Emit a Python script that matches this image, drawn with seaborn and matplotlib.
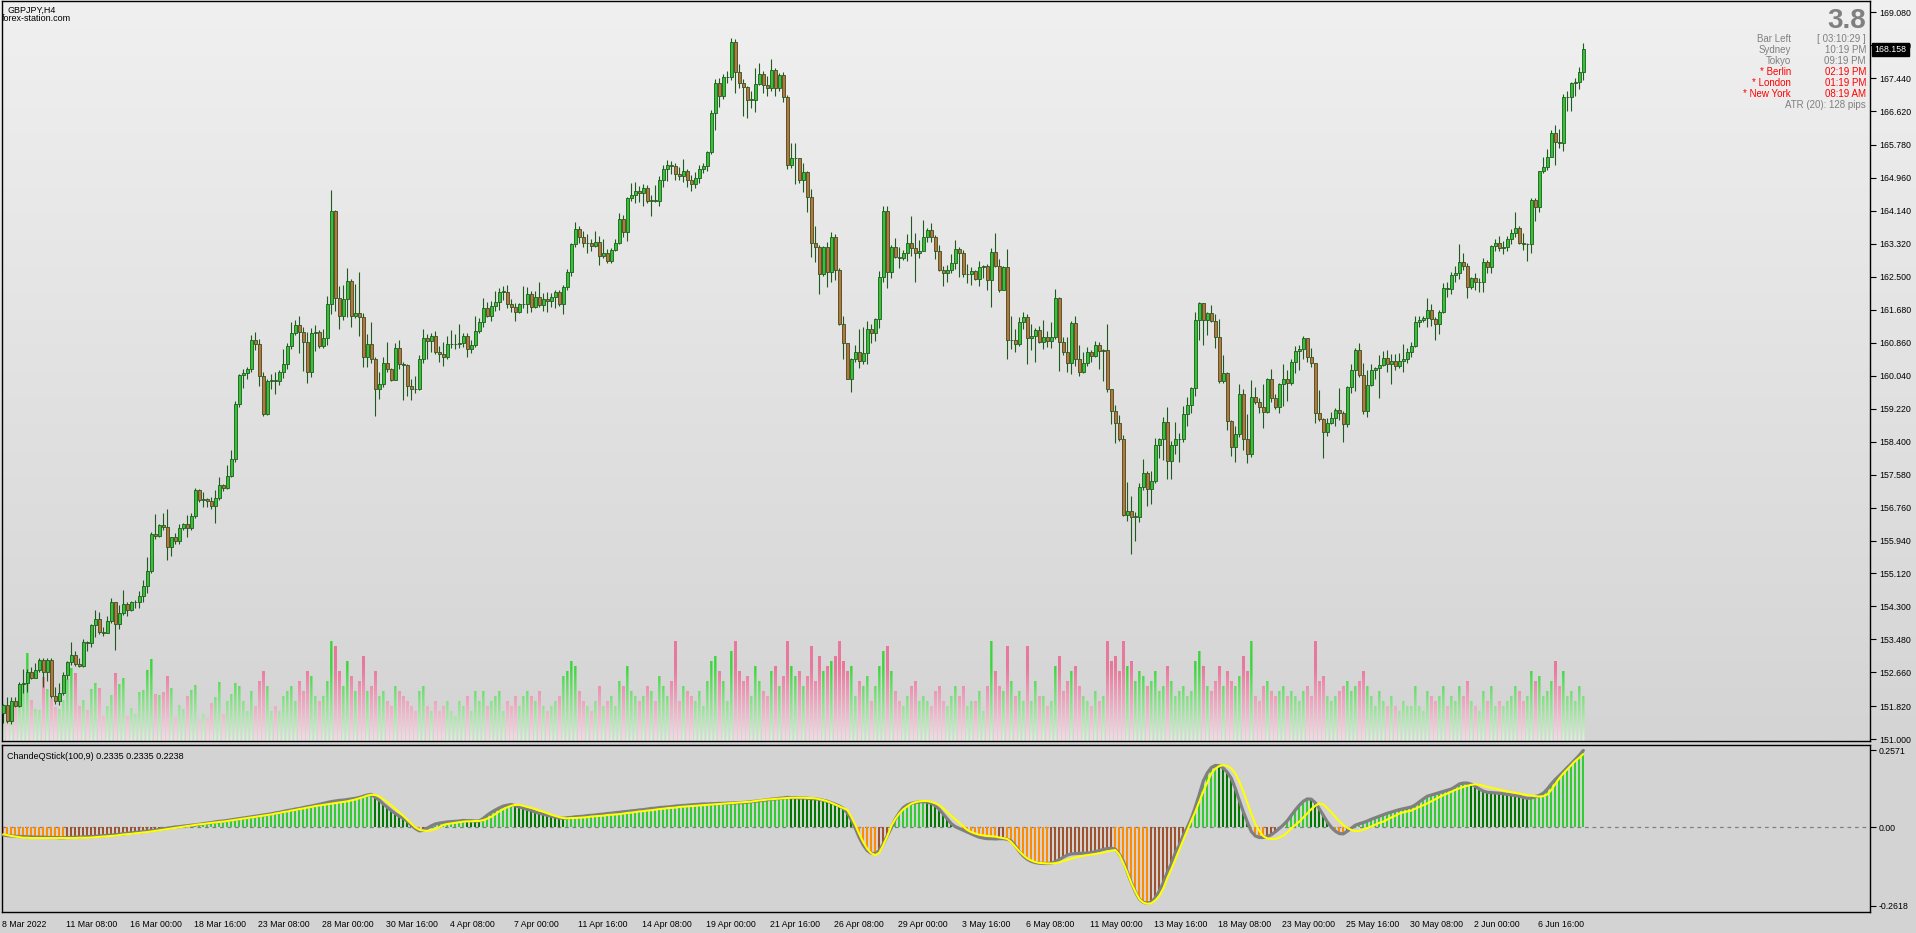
import numpy as np
import seaborn as sns
import matplotlib
matplotlib.use("Agg")
import matplotlib.pyplot as plt
from matplotlib.colors import LinearSegmentedColormap
from matplotlib.transforms import blended_transform_factory
from matplotlib.path import Path
from matplotlib.patches import PathPatch

# ---------------- chart data ----------------
symbol_title = "GBPJPY,H4"
site_title = "forex-station.com"
indicator_title = "ChandeQStick(100,9) 0.2335 0.2335 0.2238"

first_open = 151.65
closes = [
    151.84, 151.46, 151.96, 151.83, 152.37, 152.40, 152.66, 152.52, 152.71, 152.98,
    152.67, 152.98, 152.08, 151.94, 152.14, 152.59, 152.91, 153.10, 152.88, 152.82,
    153.41, 153.39, 153.84, 154.00, 153.66, 153.64, 153.93, 154.40, 153.87, 154.13,
    154.36, 154.22, 154.41, 154.42, 154.55, 154.80, 155.17, 156.10, 156.06, 156.32,
    156.28, 155.77, 156.03, 155.94, 156.25, 156.35, 156.26, 156.54, 157.19, 156.96,
    156.98, 156.92, 156.81, 157.00, 157.31, 157.25, 157.54, 157.97, 159.33, 160.06,
    160.10, 160.20, 160.93, 160.82, 160.04, 159.08, 159.91, 159.93, 159.92, 160.14,
    160.32, 160.78, 161.09, 161.30, 161.12, 160.87, 160.12, 161.09, 161.12, 160.79,
    160.99, 161.82, 164.14, 161.98, 161.53, 161.94, 162.40, 161.53, 161.59, 161.51,
    160.51, 160.83, 160.45, 159.70, 159.83, 160.35, 160.21, 159.93, 160.72, 160.32,
    160.31, 159.79, 159.72, 159.70, 160.45, 160.99, 160.91, 161.03, 160.62, 160.57,
    160.50, 160.82, 160.82, 160.83, 160.85, 161.03, 160.70, 160.80, 161.15, 161.37,
    161.72, 161.53, 161.78, 161.88, 162.13, 162.13, 161.82, 161.76, 161.63, 161.82,
    161.82, 162.06, 161.76, 161.99, 161.80, 161.94, 161.91, 162.01, 162.11, 161.82,
    162.24, 162.61, 163.31, 163.68, 163.48, 163.33, 163.35, 163.27, 163.36, 163.03,
    163.08, 162.90, 163.17, 163.33, 163.93, 163.61, 164.45, 164.54, 164.63, 164.58,
    164.70, 164.39, 164.41, 164.39, 164.92, 165.17, 165.28, 165.26, 165.05, 165.02,
    165.12, 164.91, 164.80, 164.95, 165.17, 165.26, 165.60, 166.57, 167.31, 167.01,
    167.46, 167.46, 168.33, 167.59, 167.31, 167.23, 166.91, 166.91, 167.29, 167.54,
    167.27, 167.19, 167.64, 167.19, 167.52, 166.98, 165.28, 165.45, 165.45, 164.91,
    165.10, 164.49, 163.33, 163.25, 162.56, 163.23, 162.63, 163.48, 162.67, 161.32,
    160.85, 159.97, 160.45, 160.62, 160.41, 160.60, 161.20, 161.09, 161.45, 162.50,
    164.14, 162.61, 163.23, 163.00, 162.98, 163.08, 163.33, 163.21, 163.10, 163.13,
    163.48, 163.66, 163.50, 163.13, 162.67, 162.59, 162.67, 162.84, 163.18, 163.10,
    162.56, 162.57, 162.65, 162.45, 162.75, 162.77, 162.42, 163.11, 162.77, 162.17,
    162.74, 160.93, 160.93, 160.82, 161.37, 161.50, 160.97, 161.03, 161.18, 160.89,
    161.00, 160.91, 161.00, 161.97, 160.89, 160.64, 160.35, 161.34, 160.45, 160.12,
    160.35, 160.64, 160.54, 160.80, 160.66, 160.67, 159.70, 159.17, 158.86, 158.46,
    156.58, 156.67, 156.53, 156.53, 157.26, 157.61, 157.21, 157.42, 158.32, 158.46,
    158.88, 157.93, 158.32, 158.46, 158.46, 159.08, 159.31, 159.73, 161.43, 161.84,
    161.43, 161.59, 161.41, 161.01, 159.92, 160.10, 158.92, 158.26, 158.58, 159.58,
    158.46, 158.09, 159.50, 159.39, 159.25, 159.13, 159.96, 159.48, 159.27, 159.83,
    159.97, 159.87, 160.37, 160.66, 160.70, 160.97, 160.51, 160.35, 159.12, 158.96,
    158.65, 158.86, 158.99, 159.19, 159.12, 158.83, 159.75, 160.18, 160.68, 160.06,
    159.17, 159.81, 160.18, 160.22, 160.31, 160.47, 160.32, 160.40, 160.29, 160.41,
    160.46, 160.64, 160.78, 161.37, 161.43, 161.47, 161.67, 161.44, 161.33, 161.62,
    162.21, 162.19, 162.55, 162.59, 162.86, 162.78, 162.25, 162.46, 162.36, 162.38,
    162.86, 162.75, 163.27, 163.33, 163.21, 163.23, 163.43, 163.58, 163.71, 163.35,
    163.31, 163.32, 164.41, 164.23, 165.13, 165.22, 165.49, 166.07, 165.85, 165.84,
    166.97, 166.97, 167.31, 167.35, 167.59, 168.16,
]
highs = [
    151.87, 152.05, 152.05, 152.05, 152.41, 152.74, 152.74, 152.79, 152.89, 153.02,
    153.02, 153.02, 153.02, 152.30, 152.40, 152.67, 152.95, 153.41, 153.20, 153.03,
    153.49, 153.45, 153.86, 154.21, 154.16, 153.78, 154.07, 154.51, 154.40, 154.34,
    154.71, 154.40, 154.44, 154.46, 154.68, 154.95, 155.53, 156.15, 156.60, 156.35,
    156.63, 156.72, 156.04, 156.13, 156.35, 156.38, 156.58, 156.63, 157.25, 157.21,
    157.15, 157.00, 157.02, 157.20, 157.52, 157.35, 157.82, 158.19, 159.42, 160.08,
    160.20, 160.26, 161.05, 161.12, 160.95, 160.14, 159.97, 160.08, 160.14, 160.18,
    160.70, 160.86, 161.37, 161.42, 161.52, 161.26, 161.12, 161.22, 161.30, 161.18,
    161.20, 162.02, 164.66, 164.16, 162.27, 162.30, 162.71, 162.45, 162.32, 162.62,
    161.59, 161.08, 161.37, 160.50, 160.14, 160.50, 160.87, 160.24, 160.85, 160.92,
    160.37, 160.32, 159.95, 160.03, 160.56, 161.20, 161.08, 161.11, 161.15, 160.78,
    160.87, 161.03, 161.18, 161.08, 161.32, 161.09, 161.11, 160.93, 161.53, 161.47,
    161.97, 161.87, 161.90, 162.15, 162.21, 162.27, 162.30, 161.96, 161.86, 161.86,
    162.27, 162.24, 162.15, 162.15, 162.36, 162.09, 162.13, 162.09, 162.17, 162.17,
    162.30, 162.69, 163.33, 163.86, 163.76, 163.64, 163.57, 163.43, 163.64, 163.52,
    163.44, 163.19, 163.21, 163.44, 164.08, 164.05, 164.49, 164.84, 164.86, 164.76,
    164.80, 164.78, 164.54, 164.78, 165.02, 165.28, 165.41, 165.39, 165.32, 165.22,
    165.43, 165.17, 165.03, 165.10, 165.27, 165.32, 165.63, 166.65, 167.41, 167.44,
    167.55, 167.62, 168.43, 168.42, 167.79, 167.42, 167.25, 167.12, 167.70, 167.83,
    167.62, 167.50, 167.92, 167.69, 167.56, 167.60, 167.02, 165.82, 165.82, 165.46,
    165.32, 165.13, 164.68, 163.76, 163.29, 163.27, 163.36, 163.62, 163.56, 162.71,
    161.52, 160.85, 160.49, 160.80, 161.20, 161.24, 161.40, 161.32, 161.48, 162.64,
    164.26, 164.26, 163.29, 163.47, 163.25, 163.17, 163.56, 164.01, 163.58, 163.42,
    163.91, 163.71, 163.85, 163.54, 163.29, 162.77, 162.79, 163.06, 163.42, 163.23,
    163.17, 162.82, 162.74, 162.67, 162.89, 162.79, 162.82, 163.21, 163.58, 162.94,
    162.77, 163.18, 161.52, 161.19, 161.51, 161.62, 161.57, 161.32, 161.22, 161.28,
    161.43, 161.15, 161.37, 162.20, 162.01, 161.00, 161.00, 161.39, 161.53, 160.80,
    160.62, 160.75, 160.68, 160.90, 160.87, 160.70, 161.32, 159.70, 159.31, 159.06,
    158.57, 157.39, 157.05, 156.66, 157.38, 157.96, 157.67, 157.67, 158.48, 158.48,
    159.02, 159.27, 158.42, 158.88, 158.61, 159.29, 159.52, 159.77, 161.62, 161.87,
    161.86, 161.63, 161.80, 161.58, 161.45, 160.56, 160.12, 158.94, 158.80, 159.83,
    159.70, 159.09, 159.93, 159.75, 159.49, 159.83, 159.99, 160.21, 159.59, 159.87,
    160.33, 160.18, 160.45, 160.78, 160.80, 161.03, 160.97, 160.72, 160.35, 159.68,
    159.00, 158.98, 159.13, 159.23, 159.74, 159.16, 159.78, 160.33, 160.74, 160.86,
    160.35, 160.17, 160.33, 160.25, 160.56, 160.66, 160.68, 160.58, 160.58, 160.61,
    160.83, 160.74, 160.89, 161.53, 161.53, 161.53, 161.98, 161.82, 161.51, 161.67,
    162.34, 162.36, 162.61, 162.77, 163.32, 163.10, 162.84, 162.50, 162.59, 162.46,
    162.96, 162.92, 163.29, 163.43, 163.52, 163.40, 163.52, 163.68, 164.12, 163.76,
    163.58, 163.34, 164.45, 164.45, 165.14, 165.49, 165.68, 166.15, 166.28, 166.18,
    167.05, 167.12, 167.35, 167.44, 167.71, 168.31,
]
lows = [
    151.40, 151.40, 151.38, 151.79, 151.79, 152.15, 152.17, 152.49, 152.52, 152.67,
    152.30, 152.44, 152.02, 151.88, 151.86, 152.10, 152.50, 152.85, 152.81, 152.80,
    152.80, 153.20, 153.29, 153.54, 153.61, 153.56, 153.63, 153.89, 153.22, 153.74,
    154.08, 154.07, 154.19, 154.26, 154.26, 154.42, 154.63, 155.12, 155.99, 156.04,
    156.20, 155.46, 155.56, 155.85, 155.85, 156.19, 156.04, 156.20, 156.50, 156.90,
    156.78, 156.78, 156.73, 156.38, 156.96, 157.17, 157.22, 157.51, 157.90, 159.27,
    159.74, 159.95, 160.14, 160.68, 159.78, 159.04, 159.06, 159.70, 159.58, 159.81,
    159.99, 160.21, 160.70, 161.05, 160.61, 160.16, 159.87, 160.02, 160.66, 160.74,
    160.74, 160.80, 161.58, 161.66, 161.20, 161.43, 161.51, 161.24, 161.48, 161.04,
    160.26, 160.26, 160.36, 159.05, 159.47, 159.77, 160.12, 159.92, 159.93, 160.20,
    159.44, 159.54, 159.44, 159.62, 159.68, 160.36, 160.46, 160.64, 160.58, 160.39,
    160.29, 160.46, 160.72, 160.70, 160.72, 160.76, 160.51, 160.61, 160.75, 161.09,
    161.26, 161.51, 161.41, 161.66, 161.67, 161.92, 161.72, 161.63, 161.41, 161.59,
    161.72, 161.61, 161.63, 161.72, 161.74, 161.66, 161.63, 161.74, 161.73, 161.77,
    161.58, 162.17, 162.53, 163.25, 163.33, 163.25, 163.10, 163.15, 163.25, 162.79,
    162.98, 162.85, 162.85, 163.13, 163.31, 163.48, 163.40, 164.39, 164.34, 164.37,
    164.27, 164.34, 164.02, 164.35, 164.26, 164.74, 164.89, 165.05, 164.91, 164.91,
    164.87, 164.74, 164.64, 164.72, 164.83, 165.07, 165.12, 165.55, 166.15, 166.73,
    166.92, 167.31, 167.40, 167.06, 167.19, 166.51, 166.44, 166.69, 166.61, 167.26,
    167.08, 167.00, 167.13, 167.01, 167.13, 166.86, 165.17, 165.20, 164.80, 164.83,
    164.60, 164.10, 163.00, 162.86, 162.06, 162.53, 162.25, 162.36, 162.42, 161.30,
    160.45, 159.97, 159.63, 160.39, 160.22, 160.32, 160.32, 160.85, 160.90, 161.22,
    162.36, 162.21, 162.46, 162.98, 162.73, 162.92, 162.89, 163.03, 162.38, 162.96,
    163.14, 163.37, 163.37, 162.94, 162.65, 162.27, 162.38, 162.59, 162.69, 162.50,
    162.50, 162.35, 162.30, 162.42, 162.26, 162.46, 162.17, 161.76, 162.75, 162.11,
    162.16, 160.46, 160.70, 160.64, 160.79, 161.19, 160.32, 160.68, 160.39, 160.85,
    160.71, 160.76, 160.74, 160.95, 160.16, 160.56, 160.14, 160.07, 160.29, 160.04,
    160.10, 160.29, 160.39, 160.51, 160.21, 159.92, 159.64, 158.84, 158.37, 158.42,
    156.56, 156.43, 155.60, 155.94, 156.41, 157.20, 156.81, 156.84, 157.36, 158.00,
    157.94, 157.46, 157.46, 158.09, 157.90, 158.40, 158.80, 159.10, 159.54, 160.93,
    160.80, 161.05, 161.37, 160.74, 159.85, 159.85, 158.69, 158.05, 157.90, 158.52,
    158.18, 157.88, 158.03, 159.34, 159.10, 158.73, 159.10, 159.38, 159.20, 159.10,
    159.29, 159.42, 159.81, 160.10, 160.18, 160.46, 160.37, 160.25, 158.86, 158.92,
    158.00, 158.55, 158.84, 158.80, 158.94, 158.40, 158.77, 159.62, 159.67, 160.00,
    159.09, 159.02, 159.78, 159.96, 159.49, 160.28, 160.14, 159.83, 160.17, 160.22,
    160.12, 160.35, 160.51, 160.75, 161.26, 161.38, 161.24, 161.28, 160.94, 161.07,
    161.59, 162.01, 162.06, 162.38, 162.45, 162.67, 161.98, 162.20, 162.17, 162.13,
    162.11, 162.59, 162.60, 163.15, 163.15, 163.06, 163.15, 163.31, 163.50, 163.31,
    163.17, 162.90, 163.10, 163.90, 164.12, 165.07, 165.16, 165.47, 165.28, 165.71,
    165.64, 166.63, 166.63, 167.01, 167.17, 167.40,
]
tick_volume = [
    30, 33, 20, 33, 57, 58, 88, 41, 32, 31, 64, 52, 42, 34, 32, 41, 62, 73, 68, 35,
    41, 31, 52, 58, 53, 25, 35, 46, 68, 57, 63, 25, 33, 27, 49, 51, 71, 82, 47, 46,
    49, 65, 53, 23, 36, 32, 45, 51, 56, 20, 27, 23, 38, 44, 59, 27, 40, 47, 58, 55,
    40, 30, 50, 35, 60, 70, 55, 30, 35, 30, 45, 50, 55, 40, 60, 50, 70, 65, 45, 40,
    45, 60, 100, 95, 70, 55, 80, 65, 50, 60, 85, 50, 55, 70, 45, 50, 40, 35, 55, 50,
    45, 40, 35, 30, 50, 55, 35, 30, 40, 30, 35, 40, 30, 25, 40, 35, 45, 30, 50, 40,
    50, 35, 40, 45, 50, 30, 40, 35, 45, 35, 45, 50, 45, 40, 50, 35, 30, 35, 40, 45,
    65, 70, 80, 75, 50, 40, 35, 30, 40, 55, 35, 40, 45, 35, 60, 55, 75, 50, 45, 40,
    45, 55, 50, 40, 65, 55, 45, 60, 108, 40, 55, 50, 45, 40, 50, 35, 60, 80, 85, 70,
    60, 40, 90, 100, 70, 60, 65, 45, 75, 60, 50, 45, 70, 75, 55, 65, 100, 75, 65, 70,
    55, 65, 95, 60, 85, 70, 75, 80, 85, 100, 80, 70, 75, 45, 60, 55, 65, 40, 55, 75,
    90, 95, 70, 50, 40, 35, 45, 55, 60, 40, 45, 40, 35, 50, 55, 40, 35, 45, 55, 45,
    55, 35, 40, 40, 50, 30, 55, 105, 70, 55, 50, 95, 60, 45, 50, 40, 95, 40, 60, 45,
    45, 35, 40, 75, 85, 50, 60, 70, 75, 55, 45, 40, 35, 50, 40, 45, 105, 80, 85, 70,
    105, 75, 80, 60, 70, 65, 55, 60, 70, 50, 55, 75, 60, 45, 50, 55, 45, 50, 80, 90,
    75, 55, 50, 60, 75, 55, 70, 60, 55, 65, 85, 70, 110, 45, 40, 55, 60, 50, 45, 50,
    55, 45, 50, 45, 40, 50, 55, 45, 100, 60, 65, 45, 40, 45, 50, 55, 60, 50, 55, 60,
    70, 55, 45, 35, 50, 40, 35, 45, 35, 30, 40, 35, 35, 55, 35, 30, 50, 45, 40, 45,
    55, 35, 45, 40, 55, 45, 60, 40, 35, 30, 50, 40, 55, 35, 40, 35, 40, 45, 55, 50,
    40, 45, 70, 60, 65, 45, 50, 60, 80, 55, 70, 45, 50, 40, 55, 45,
]
qstick = [
    -0.026, -0.028, -0.029, -0.030, -0.031, -0.031, -0.032, -0.032, -0.033, -0.033,
    -0.033, -0.034, -0.034, -0.034, -0.035, -0.035, -0.034, -0.034, -0.033, -0.033,
    -0.032, -0.031, -0.031, -0.030, -0.029, -0.028, -0.027, -0.026, -0.025, -0.023,
    -0.022, -0.020, -0.019, -0.017, -0.016, -0.014, -0.013, -0.011, -0.009, -0.007,
    -0.005, -0.003, -0.001, 0.001, 0.002, 0.004, 0.005, 0.007, 0.008, 0.010,
    0.012, 0.014, 0.016, 0.018, 0.020, 0.021, 0.023, 0.025, 0.027, 0.029,
    0.031, 0.033, 0.035, 0.037, 0.039, 0.041, 0.043, 0.045, 0.048, 0.050,
    0.053, 0.056, 0.058, 0.061, 0.063, 0.066, 0.069, 0.071, 0.074, 0.077,
    0.080, 0.083, 0.086, 0.088, 0.090, 0.091, 0.093, 0.095, 0.097, 0.100,
    0.104, 0.108, 0.110, 0.100, 0.091, 0.078, 0.067, 0.056, 0.046, 0.037,
    0.030, 0.020, 0.007, -0.004, -0.012, -0.010, -0.003, 0.005, 0.011, 0.014,
    0.016, 0.018, 0.019, 0.020, 0.021, 0.023, 0.022, 0.022, 0.021, 0.021,
    0.030, 0.041, 0.050, 0.058, 0.065, 0.071, 0.074, 0.076, 0.072, 0.068,
    0.064, 0.060, 0.056, 0.051, 0.047, 0.044, 0.040, 0.037, 0.034, 0.031,
    0.030, 0.032, 0.033, 0.035, 0.036, 0.037, 0.039, 0.040, 0.041, 0.043,
    0.044, 0.046, 0.047, 0.049, 0.050, 0.052, 0.053, 0.055, 0.056, 0.058,
    0.059, 0.061, 0.063, 0.064, 0.066, 0.067, 0.068, 0.069, 0.071, 0.072,
    0.073, 0.074, 0.075, 0.076, 0.077, 0.078, 0.078, 0.079, 0.079, 0.080,
    0.080, 0.081, 0.081, 0.082, 0.082, 0.083, 0.084, 0.086, 0.087, 0.089,
    0.090, 0.092, 0.094, 0.095, 0.097, 0.098, 0.100, 0.099, 0.099, 0.098,
    0.098, 0.097, 0.096, 0.095, 0.093, 0.090, 0.087, 0.082, 0.077, 0.071,
    0.063, 0.048, 0.025, -0.003, -0.035, -0.060, -0.078, -0.087, -0.088, -0.078,
    -0.055, -0.028, -0.002, 0.028, 0.049, 0.066, 0.075, 0.080, 0.083, 0.085,
    0.086, 0.084, 0.080, 0.072, 0.060, 0.044, 0.028, 0.012, 0.002, -0.004,
    -0.010, -0.016, -0.022, -0.028, -0.033, -0.036, -0.038, -0.038, -0.039, -0.038,
    -0.038, -0.040, -0.046, -0.062, -0.081, -0.096, -0.107, -0.114, -0.118, -0.120,
    -0.121, -0.121, -0.120, -0.115, -0.108, -0.100, -0.093, -0.089, -0.088, -0.087,
    -0.087, -0.086, -0.085, -0.081, -0.078, -0.074, -0.071, -0.070, -0.073, -0.090,
    -0.113, -0.150, -0.185, -0.215, -0.240, -0.251, -0.254, -0.250, -0.236, -0.213,
    -0.185, -0.150, -0.122, -0.085, -0.060, -0.026, 0.000, 0.030, 0.068, 0.110,
    0.155, 0.182, 0.200, 0.207, 0.206, 0.198, 0.184, 0.164, 0.130, 0.090,
    0.052, 0.018, -0.014, -0.029, -0.034, -0.034, -0.031, -0.025, -0.015, -0.004,
    0.008, 0.022, 0.040, 0.058, 0.074, 0.087, 0.095, 0.094, 0.082, 0.062,
    0.040, 0.018, 0.000, -0.013, -0.021, -0.022, -0.013, -0.003, 0.007, 0.012,
    0.016, 0.021, 0.027, 0.032, 0.037, 0.042, 0.047, 0.051, 0.055, 0.059,
    0.062, 0.065, 0.068, 0.075, 0.085, 0.095, 0.104, 0.108, 0.112, 0.116,
    0.120, 0.124, 0.128, 0.136, 0.145, 0.148, 0.148, 0.144, 0.137, 0.128,
    0.121, 0.117, 0.116, 0.115, 0.114, 0.112, 0.110, 0.108, 0.106, 0.104,
    0.100, 0.097, 0.098, 0.102, 0.107, 0.114, 0.128, 0.145, 0.160, 0.173,
    0.186, 0.200, 0.213, 0.227, 0.241, 0.257,
]
qstick_signal = [
    -0.023, -0.026, -0.029, -0.031, -0.033, -0.035, -0.035, -0.036, -0.036, -0.036,
    -0.036, -0.036, -0.036, -0.036, -0.036, -0.036, -0.036, -0.036, -0.036, -0.035,
    -0.035, -0.035, -0.034, -0.033, -0.032, -0.031, -0.030, -0.029, -0.028, -0.026,
    -0.024, -0.023, -0.022, -0.020, -0.019, -0.017, -0.016, -0.014, -0.012, -0.010,
    -0.008, -0.006, -0.004, -0.002, 0.000, 0.002, 0.004, 0.006, 0.008, 0.010,
    0.011, 0.013, 0.015, 0.016, 0.018, 0.019, 0.021, 0.023, 0.025, 0.027,
    0.029, 0.031, 0.033, 0.035, 0.037, 0.039, 0.041, 0.043, 0.046, 0.048,
    0.051, 0.053, 0.056, 0.058, 0.061, 0.063, 0.066, 0.068, 0.071, 0.073,
    0.075, 0.077, 0.079, 0.081, 0.083, 0.085, 0.087, 0.090, 0.093, 0.097,
    0.101, 0.106, 0.109, 0.108, 0.103, 0.094, 0.084, 0.073, 0.062, 0.050,
    0.038, 0.025, 0.012, 0.000, -0.008, -0.011, -0.012, -0.010, -0.006, 0.000,
    0.008, 0.011, 0.013, 0.015, 0.017, 0.019, 0.020, 0.020, 0.021, 0.021,
    0.024, 0.029, 0.035, 0.044, 0.053, 0.061, 0.067, 0.072, 0.075, 0.075,
    0.072, 0.068, 0.065, 0.061, 0.056, 0.052, 0.047, 0.042, 0.038, 0.034,
    0.031, 0.030, 0.031, 0.031, 0.032, 0.033, 0.034, 0.036, 0.037, 0.038,
    0.039, 0.041, 0.042, 0.043, 0.044, 0.046, 0.048, 0.049, 0.051, 0.053,
    0.054, 0.056, 0.057, 0.059, 0.061, 0.062, 0.064, 0.065, 0.066, 0.068,
    0.069, 0.070, 0.071, 0.072, 0.073, 0.074, 0.075, 0.076, 0.077, 0.078,
    0.079, 0.080, 0.081, 0.082, 0.083, 0.084, 0.085, 0.086, 0.088, 0.090,
    0.091, 0.093, 0.094, 0.095, 0.096, 0.097, 0.098, 0.099, 0.099, 0.099,
    0.099, 0.098, 0.098, 0.097, 0.094, 0.091, 0.087, 0.082, 0.076, 0.070,
    0.064, 0.058, 0.035, 0.008, -0.023, -0.050, -0.072, -0.087, -0.093, -0.085,
    -0.059, -0.030, 0.005, 0.028, 0.046, 0.060, 0.070, 0.079, 0.084, 0.087,
    0.088, 0.088, 0.085, 0.080, 0.074, 0.063, 0.051, 0.038, 0.027, 0.015,
    0.003, -0.009, -0.016, -0.021, -0.025, -0.027, -0.029, -0.030, -0.031, -0.034,
    -0.036, -0.039, -0.050, -0.065, -0.080, -0.093, -0.104, -0.111, -0.116, -0.119,
    -0.120, -0.121, -0.121, -0.120, -0.117, -0.113, -0.109, -0.105, -0.101, -0.098,
    -0.095, -0.093, -0.091, -0.089, -0.087, -0.084, -0.081, -0.078, -0.076, -0.092,
    -0.120, -0.152, -0.187, -0.215, -0.240, -0.252, -0.256, -0.254, -0.244, -0.229,
    -0.205, -0.170, -0.140, -0.108, -0.075, -0.042, -0.010, 0.022, 0.052, 0.086,
    0.120, 0.150, 0.180, 0.196, 0.205, 0.208, 0.205, 0.197, 0.180, 0.153,
    0.120, 0.083, 0.045, 0.012, -0.012, -0.030, -0.037, -0.039, -0.039, -0.034,
    -0.028, -0.017, -0.004, 0.008, 0.019, 0.033, 0.047, 0.061, 0.072, 0.080,
    0.076, 0.064, 0.050, 0.035, 0.020, 0.008, -0.002, -0.009, -0.013, -0.012,
    -0.008, -0.003, 0.003, 0.009, 0.015, 0.019, 0.026, 0.033, 0.039, 0.046,
    0.050, 0.053, 0.056, 0.062, 0.068, 0.074, 0.080, 0.087, 0.094, 0.101,
    0.107, 0.113, 0.119, 0.125, 0.130, 0.135, 0.139, 0.142, 0.144, 0.142,
    0.139, 0.135, 0.132, 0.129, 0.126, 0.123, 0.120, 0.118, 0.115, 0.113,
    0.110, 0.108, 0.106, 0.104, 0.103, 0.104, 0.110, 0.125, 0.145, 0.164,
    0.180, 0.194, 0.208, 0.222, 0.233, 0.245,
]

time_labels = ["8 Mar 2022", "11 Mar 08:00", "16 Mar 00:00", "18 Mar 16:00", "23 Mar 08:00",
               "28 Mar 00:00", "30 Mar 16:00", "4 Apr 08:00", "7 Apr 00:00", "11 Apr 16:00",
               "14 Apr 08:00", "19 Apr 00:00", "21 Apr 16:00", "26 Apr 08:00", "29 Apr 00:00",
               "3 May 16:00", "6 May 08:00", "11 May 00:00", "13 May 16:00", "18 May 08:00",
               "23 May 00:00", "25 May 16:00", "30 May 08:00", "2 Jun 00:00", "6 Jun 16:00"]
bars_per_label = 16
price_ticks = [169.080, 168.260, 167.440, 166.620, 165.780, 164.960, 164.140, 163.320,
               162.500, 161.680, 160.860, 160.040, 159.220, 158.400, 157.580, 156.760,
               155.940, 155.120, 154.300, 153.480, 152.660, 151.820, 151.000]
last_price = 168.158
ind_ticks = [0.2571, 0.0, -0.2618]
ind_tick_labels = ["0.2571", "0.00", "-0.2618"]

spread_text = "3.8"
session_rows = [("Bar Left", "[ 03:10:29 ]", "#808080"),
                ("Sydney", "10:19 PM", "#808080"),
                ("Tokyo", "09:19 PM", "#808080"),
                ("* Berlin", "02:19 PM", "#FF0000"),
                ("* London", "01:19 PM", "#FF0000"),
                ("* New York", "08:19 AM", "#FF0000")]
atr_text = "ATR (20): 128 pips"

assert len(closes) == len(highs) == len(lows) == len(tick_volume) == len(qstick) == len(qstick_signal)

# ---------------- style ----------------
sns.set_style("white")
plt.rcParams['font.family'] = ['Liberation Sans', 'DejaVu Sans']

W, H = 1916, 933
fig = plt.figure(figsize=(W / 100, H / 100), dpi=100, facecolor='#D3D3D3')


def fx(px):
    return px / W


def fy(py):
    return 1 - py / H


n = len(closes)
idx = np.arange(n)
c = np.array(closes)
o = np.r_[first_open, c[:-1]]          # forex: bar opens at the previous close
hi = np.maximum(np.array(highs), np.maximum(o, c))
lo = np.minimum(np.array(lows), np.minimum(o, c))
up = c >= o

XLIM = (-0.3325, 466.67)               # 4 px per bar, plot area 2..1870 px
PLIM = (150.953, 169.361)

# gradient background of the price window (incl. price scale column)
bg = fig.add_axes([0, fy(743), 1, 743 / H])
bg.set_zorder(-5)
bg.imshow(np.linspace(0, 1, 256).reshape(-1, 1), aspect='auto', extent=[0, 1, 0, 1],
          cmap=LinearSegmentedColormap.from_list('bg', ['#F0F0F0', '#D4D4D4']))
bg.axis('off')

pos_price = [fx(2), fy(741), (1870 - 2) / W, 740 / H]
pos_ind = [fx(2), fy(912), (1870 - 2) / W, (912 - 745) / H]

# ---- volume bars (behind candles), shaded from pale at the base to full colour ----
axv = fig.add_axes(pos_price)
axv.set_zorder(0)
axv.patch.set_visible(False)
axv.set_xlim(*XLIM)
axv.set_ylim(0, 740)
axv.axis('off')
vol = np.array(tick_volume, dtype=float)
ramp = np.clip(np.linspace(0, 1, 256) * 1.35, 0, 1).reshape(-1, 1)
for mask, pale, full in [(up, '#DDF0DD', '#3CD53C'), (~up, '#F0DEE5', '#E8789C')]:
    verts, codes = [], []
    for x, h in zip(idx[mask], vol[mask]):
        verts += [(x - 0.3, 0), (x + 0.3, 0), (x + 0.3, h), (x - 0.3, h), (x - 0.3, 0)]
        codes += [Path.MOVETO, Path.LINETO, Path.LINETO, Path.LINETO, Path.CLOSEPOLY]
    clip = PathPatch(Path(verts, codes), transform=axv.transData, facecolor='none', edgecolor='none')
    axv.add_patch(clip)
    im = axv.imshow(ramp, extent=[XLIM[0], XLIM[1], 0, 100], origin='lower', aspect='auto',
                    cmap=LinearSegmentedColormap.from_list('v', [pale, full]), zorder=2,
                    interpolation='bilinear')
    im.set_clip_path(clip)
axv.set_xlim(*XLIM)
axv.set_ylim(0, 740)

# ---- candles ----
ax = fig.add_axes(pos_price)
ax.set_zorder(1)
ax.patch.set_visible(False)
ax.vlines(idx, lo, hi, color='#1F5A1F', lw=0.8, zorder=2)
ax.bar(idx, np.maximum(np.abs(c - o), 0.008), bottom=np.minimum(o, c), width=0.72,
       color=np.where(up, '#33C433', '#D2693C'), edgecolor='#1F5A1F', linewidth=0.6, zorder=3)
ax.set_xlim(*XLIM)
ax.set_ylim(*PLIM)
ax.set_xticks([])
ax.yaxis.tick_right()
ax.set_yticks(price_ticks)
ax.set_yticklabels([f"{t:.3f}" for t in price_ticks])
ax.tick_params(axis='y', length=4, width=0.8, pad=3, labelsize=6.3, colors='black', direction='out')
for s in ax.spines.values():
    s.set_color('black')
    s.set_linewidth(1.0)

trans = blended_transform_factory(ax.transAxes, ax.transData)
ax.text(1.0 + 4.5 / 1868, last_price, f"{last_price:.3f}", transform=trans, ha='left', va='center',
        fontsize=6.3, color='white', zorder=10, clip_on=False,
        bbox=dict(facecolor='black', edgecolor='black', pad=1.6))

# ---- ChandeQStick window ----
ax2 = fig.add_axes(pos_ind)
ax2.set_facecolor('#D3D3D3')
q = np.array(qstick)
sig = np.array(qstick_signal)
rising = np.zeros(n, dtype=bool)
state = False
for i in range(1, n):
    if q[i] > q[i - 1]:
        state = True
    elif q[i] < q[i - 1]:
        state = False
    rising[i] = state
bar_cols = np.where(q >= 0, np.where(rising, '#32CD32', '#007A00'),
                    np.where(rising, '#A0522D', '#FF8C00'))
ax2.axhline(0, color='#808080', lw=0.9, ls=(0, (3, 3)), zorder=1)
ax2.bar(idx, q, width=0.55, color=bar_cols, linewidth=0, zorder=2)
sns.lineplot(x=idx, y=q, ax=ax2, color='#808080', linewidth=2.3, zorder=3)
sns.lineplot(x=idx, y=sig, ax=ax2, color='#FFFF00', linewidth=1.5, zorder=4)
ax2.set_xlabel('')
ax2.set_ylabel('')
ax2.set_xlim(*XLIM)
ax2.set_ylim(-0.2833, 0.2753)
ax2.yaxis.tick_right()
ax2.set_yticks(ind_ticks)
ax2.set_yticklabels(ind_tick_labels)
ax2.set_xticks([bars_per_label * k - 0.33 for k in range(len(time_labels))])
ax2.set_xticklabels(time_labels, ha='left')
ax2.tick_params(axis='both', length=4, width=0.8, pad=2, labelsize=6.3, colors='black', direction='out')
for s in ax2.spines.values():
    s.set_color('black')
    s.set_linewidth(1.0)
ax2.text(fx(7) - fx(2), 0.96, indicator_title, transform=ax2.transAxes, ha='left', va='top',
         fontsize=6.5, color='black')

# ---- header texts ----
fig.text(fx(7), fy(10), symbol_title, ha='left', va='center', fontsize=6.5, color='black')
fig.text(fx(2), fy(18.5), site_title, ha='left', va='center', fontsize=6.5, color='black')

fig.text(fx(1866), fy(28), spread_text, ha='right', va='baseline', fontsize=20,
         fontweight='bold', color='#808080')
for k, (name, val, col) in enumerate(session_rows):
    yy = 38.5 + 11.1 * k
    fig.text(fx(1791), fy(yy), name, ha='right', va='center', fontsize=7, color=col)
    fig.text(fx(1866), fy(yy), val, ha='right', va='center', fontsize=7, color=col)
fig.text(fx(1866), fy(105), atr_text, ha='right', va='center', fontsize=7, color='#808080')

fig.savefig("out.png", dpi=100, facecolor=fig.get_facecolor())
